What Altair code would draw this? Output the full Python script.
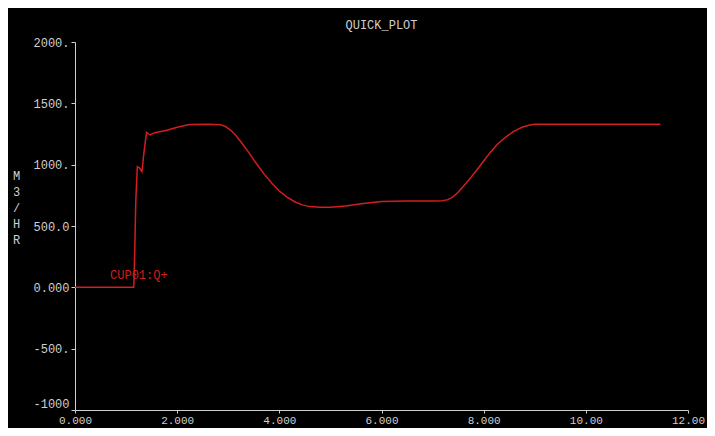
import altair as alt
import pandas as pd

time_s = [0.0, 1.15, 1.17, 1.19, 1.22, 1.26, 1.31, 1.35, 1.40, 1.47, 1.56, 1.8, 2.0, 2.24,
          2.6, 2.85, 2.95, 3.05, 3.15, 3.25, 3.4, 3.55, 3.7, 3.85, 4.0, 4.15, 4.3, 4.45,
          4.6, 4.8, 5.0, 5.3, 5.6, 6.0, 6.5, 7.0, 7.2, 7.3, 7.4, 7.5, 7.6, 7.7, 7.8,
          7.9, 8.0, 8.13, 8.26, 8.4, 8.58, 8.75, 8.9, 9.0, 9.5, 10.5, 11.46]
flow = [0, 0, 300, 700, 984, 975, 944, 1100, 1264, 1242, 1261, 1280, 1305, 1328,
        1330, 1326, 1310, 1280, 1237, 1185, 1100, 1010, 925, 850, 785, 735, 698, 672,
        658, 652, 652, 663, 682, 700, 703, 704, 706, 715, 738, 775, 822, 870, 922,
        975, 1030, 1100, 1162, 1215, 1270, 1305, 1324, 1330, 1330, 1330, 1330]

x_ticks = [0, 2, 4, 6, 8, 10, 12]
x_tick_labels = ["0.000", "2.000", "4.000", "6.000", "8.000", "10.00", "12.00"]
y_ticks = [-1000, -500, 0, 500, 1000, 1500, 2000]
y_tick_labels = ["-1000", "-500.", "0.000", "500.0", "1000.", "1500.", "2000."]

series_label = ["CUP01:Q+"]
label_x = [1.25]
label_y = [100]

df = pd.DataFrame({"t": time_s, "q": flow})
lab = pd.DataFrame({"t": label_x, "q": label_y, "txt": series_label})

def expr_map(vals, labels):
    parts = []
    for v, l in zip(vals, labels):
        parts.append(f"datum.value == {v} ? '{l}'")
    return " : ".join(parts) + " : ''"

FONT = "Liberation Mono"
GRAY = "#cfcfcf"
RED = "#d21e1e"

xs = alt.Scale(domain=[0, 12], nice=False, zero=False)
ys = alt.Scale(domain=[-1000, 2000], nice=False, zero=False)

line = alt.Chart(df).mark_line(color=RED, strokeWidth=1.5, interpolate="linear").encode(
    x=alt.X("t:Q", scale=xs, axis=alt.Axis(
        values=x_ticks, labelExpr=expr_map(x_ticks, x_tick_labels), title=None,
        grid=False, domainColor=GRAY, tickColor=GRAY, tickSize=3, labelColor=GRAY,
        labelFont=FONT, labelFontSize=11, labelPadding=1, labelFlush=False,
        labelOverlap=False)),
    y=alt.Y("q:Q", scale=ys, axis=alt.Axis(
        values=y_ticks, labelExpr=expr_map(y_ticks, y_tick_labels),
        labelBaseline={"condition": {"test": "datum.value == -1000", "value": "bottom"},
                       "value": "middle"},
        title=["M", "3", "/", "H", "R"], titleAngle=0, titleX=-59, titleY=128,
        titleBaseline="top", titleAlign="center", titleLineHeight=16,
        titleColor=GRAY, titleFont=FONT, titleFontSize=12, titleFontWeight="normal",
        grid=False, domainColor=GRAY, tickColor=GRAY, tickSize=4, labelColor=GRAY,
        labelFont=FONT, labelFontSize=12, labelPadding=2, labelOverlap=False)),
)

txt = alt.Chart(lab).mark_text(color=RED, font=FONT, fontSize=12, align="center",
                               baseline="middle").encode(
    x=alt.X("t:Q", scale=xs), y=alt.Y("q:Q", scale=ys), text="txt:N")

chart = alt.layer(line, txt).properties(
    width=613, height=368,
    title=alt.TitleParams("QUICK_PLOT", color=GRAY, font=FONT, fontSize=12,
                          fontWeight="normal", anchor="middle", offset=4),
    background="black",
    autosize=alt.AutoSizeParams(type="none"),
    padding={"left": 67, "top": 34, "right": 19, "bottom": 18},
).configure_view(stroke=None, fill="black")

chart.save("out.html", embed_options={"renderer": "svg", "actions": False})
